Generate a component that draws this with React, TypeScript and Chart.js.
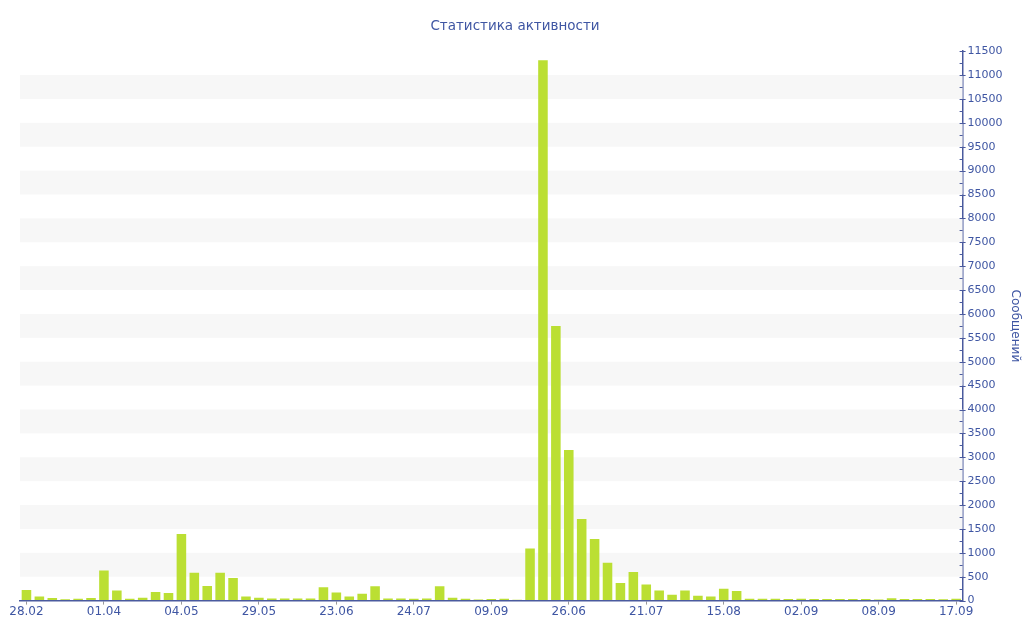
import React, { useEffect, useRef } from "react";
import { Chart, registerables } from "chart.js";

Chart.register(...registerables);

const categories: string[] = [
  "28.02", "", "", "", "", "",
  "01.04", "", "", "", "", "",
  "04.05", "", "", "", "", "",
  "29.05", "", "", "", "", "",
  "23.06", "", "", "", "", "",
  "24.07", "", "", "", "", "",
  "09.09", "", "", "", "", "",
  "26.06", "", "", "", "", "",
  "21.07", "", "", "", "", "",
  "15.08", "", "", "", "", "",
  "02.09", "", "", "", "", "",
  "08.09", "", "", "", "", "",
  "17.09",
];

const messages: number[] = [
  220, 85, 55, 30, 40, 55,
  630, 210, 40, 60, 180, 160,
  1395, 585, 305, 585, 475, 85,
  60, 45, 45, 45, 45, 280,
  170, 85, 145, 300, 45, 45,
  40, 45, 300, 60, 40, 25,
  35, 40, 20, 1090, 11310, 5750,
  3150, 1710, 1290, 790, 370, 600,
  335, 210, 120, 210, 100, 85,
  250, 200, 40, 40, 40, 35,
  40, 35, 35, 35, 35, 35,
  25, 50, 35, 35, 35, 30,
  40,
];

const yMax = 11500;
const yStep = 250;
const bandStarts: number[] = [500, 1500, 2500, 3500, 4500, 5500, 6500, 7500, 8500, 9500, 10500];
const bandSize = 500;

const textColor = "#3f56a3";
const axisColor = "#4a5a9e";
const font = "'DejaVu Sans', Verdana, sans-serif";

const bandsPlugin = {
  id: "bands",
  beforeDatasetsDraw(chart: any) {
    const { ctx, chartArea, scales } = chart;
    const y = scales.y;
    ctx.save();
    ctx.fillStyle = "#f7f7f7";
    for (const b of bandStarts) {
      const top = y.getPixelForValue(b + bandSize);
      const bottom = y.getPixelForValue(b);
      ctx.fillRect(chartArea.left, top, chartArea.right - chartArea.left, bottom - top);
    }
    ctx.restore();
  },
};

const yTicksPlugin = {
  id: "yTickMarks",
  afterDraw(chart: any) {
    const { ctx, chartArea, scales } = chart;
    const y = scales.y;
    const ax = chartArea.right;
    ctx.save();
    ctx.strokeStyle = axisColor;
    ctx.lineWidth = 1;
    for (let v = 0; v <= yMax; v += yStep) {
      const py = Math.round(y.getPixelForValue(v)) + 0.5;
      const major = v % 500 === 0;
      ctx.beginPath();
      ctx.moveTo(ax - 3, py);
      ctx.lineTo(major ? ax + 3 : ax, py);
      ctx.stroke();
    }
    ctx.restore();
  },
};

export default function App() {
  const ref = useRef<HTMLCanvasElement | null>(null);
  useEffect(() => {
    if (!ref.current) return;
    const chart = new Chart(ref.current, {
      type: "bar",
      data: {
        labels: categories,
        datasets: [
          {
            label: "Сообщений",
            data: messages,
            yAxisID: "y",
            backgroundColor: "#bbdf33",
            borderWidth: 0,
            categoryPercentage: 1,
            barPercentage: 0.74,
          },
        ],
      },
      options: {
        animation: false,
        responsive: false,
        maintainAspectRatio: false,
        layout: { padding: { left: 0, right: -6, top: 6, bottom: 21 } },
        plugins: {
          legend: { display: false },
          tooltip: { enabled: false },
          title: {
            display: true,
            text: "Статистика активности",
            color: textColor,
            font: { family: font, size: 13.5, weight: "normal" },
            padding: { top: 12, bottom: 17 },
          },
        },
        scales: {
          x: {
            offset: true,
            grid: {
              display: true,
              drawOnChartArea: false,
              offset: false,
              tickLength: 4,
              color: "#999999",
            },
            border: { display: true, color: axisColor, width: 1.5 },
            ticks: {
              autoSkip: false,
              maxRotation: 0,
              color: textColor,
              font: { family: font, size: 12 },
              padding: 0,
              callback: (_v: any, i: number) => (categories[i] ? categories[i] : null),
            },
          },
          yl: {
            position: "left",
            display: true,
            grid: { display: false },
            border: { display: false },
            ticks: { display: false },
            afterFit: (s: any) => {
              s.width = 20;
            },
          },
          y: {
            position: "right",
            min: 0,
            max: yMax,
            grid: {
              display: true,
              drawOnChartArea: false,
              drawTicks: false,
              tickLength: 0,
            },
            border: { display: true, color: axisColor, width: 1.5 },
            ticks: {
              stepSize: yStep,
              autoSkip: false,
              color: textColor,
              font: { family: font, size: 11 },
              padding: 5,
              callback: (v: any) => (Number(v) % 500 === 0 ? String(v) : ""),
            },
            title: {
              display: true,
              text: "Сообщений",
              color: textColor,
              font: { family: font, size: 12 },
              padding: { top: 8, bottom: 0 },
            },
          },
        },
      },
      plugins: [bandsPlugin, yTicksPlugin],
    } as any);
    return () => chart.destroy();
  }, []);
  return (
    <div style={{ position: "fixed", left: 0, top: 0, width: 1024, height: 640, background: "#fff" }}>
      <canvas ref={ref} width={1024} height={640} style={{ width: 1024, height: 640 }} />
    </div>
  );
}
